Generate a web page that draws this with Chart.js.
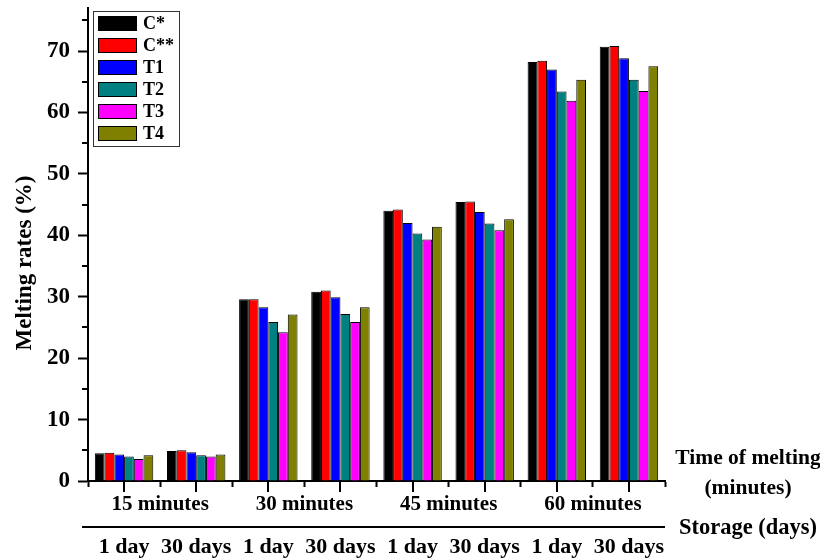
<!DOCTYPE html>
<html>
<head>
<meta charset="utf-8">
<script src="https://cdn.jsdelivr.net/npm/chart.js@4/dist/chart.umd.min.js"></script>
<style>
  html, body { margin: 0; padding: 0; background: #fff; }
  #wrap { width: 820px; height: 560px; }
</style>
</head>
<body>
<div id="wrap"><canvas id="barChart" width="820" height="560"></canvas></div>
<script>
// data
const storage = ["1 day", "30 days", "1 day", "30 days", "1 day", "30 days", "1 day", "30 days"];
const meltTimes = ["15 minutes", "30 minutes", "45 minutes", "60 minutes"];
const seriesNames = ["C*", "C**", "T1", "T2", "T3", "T4"];
const cStar  = [4.5, 4.9, 29.6, 30.8, 44.0, 45.4, 68.2, 70.7];
const cStar2 = [4.6, 5.0, 29.6, 31.0, 44.2, 45.5, 68.4, 70.8];
const t1     = [4.3, 4.7, 28.3, 29.9, 42.0, 43.8, 67.0, 68.8];
const t2     = [4.0, 4.2, 25.9, 27.2, 40.3, 41.9, 63.4, 65.3];
const t3     = [3.6, 4.0, 24.2, 25.9, 39.3, 40.8, 61.9, 63.5];
const t4     = [4.2, 4.3, 27.1, 28.3, 41.4, 42.6, 65.3, 67.5];
const yTicks = [0, 10, 20, 30, 40, 50, 60, 70];

const colors = ["#000000", "#ff0000", "#0000ff", "#008080", "#ff00ff", "#808000"];
const serif = "'Liberation Serif', 'Times New Roman', serif";

const seriesData = [cStar, cStar2, t1, t2, t3, t4];

// extra drawing: minor ticks, two-row x labels, legend box, titles
const extras = {
  id: "extras",
  afterDraw(chart) {
    const c = chart.ctx;
    const x = chart.scales.x;
    const y = chart.scales.y;
    const base = y.getPixelForValue(0);
    c.save();
    c.strokeStyle = "#000";
    c.fillStyle = "#000";
    c.lineWidth = 2;

    // minor y ticks
    for (let v = 5; v < 77; v += 10) {
      const py = Math.round(y.getPixelForValue(v));
      c.beginPath();
      c.moveTo(x.left, py);
      c.lineTo(x.left - 6, py);
      c.stroke();
    }

    // longer ticks at group centres
    for (let i = 0; i < storage.length; i++) {
      const px = Math.round(x.getPixelForValue(i));
      c.beginPath();
      c.moveTo(px, base);
      c.lineTo(px, base + 11);
      c.stroke();
    }

    c.textAlign = "center";
    c.textBaseline = "middle";
    c.font = "bold 21px " + serif;

    // melting time labels between each pair
    for (let k = 0; k < meltTimes.length; k++) {
      const px = (x.getPixelForValue(2 * k) + x.getPixelForValue(2 * k + 1)) / 2;
      c.fillText(meltTimes[k], px, base + 24);
    }

    // separator line
    c.beginPath();
    c.moveTo(82, base + 46);
    c.lineTo(x.right, base + 46);
    c.stroke();

    // storage labels
    c.font = "bold 22px " + serif;
    for (let i = 0; i < storage.length; i++) {
      c.fillText(storage[i], x.getPixelForValue(i), base + 66);
    }

    // right hand titles
    c.font = "bold 21.5px " + serif;
    c.fillText("Time of melting", 748, base - 23);
    c.fillText("(minutes)", 748, base + 7);
    c.font = "bold 22.5px " + serif;
    c.fillText("Storage (days)", 748, base + 47);

    // y title
    c.save();
    c.translate(25, 263);
    c.rotate(-Math.PI / 2);
    c.font = "bold 23px " + serif;
    c.fillText("Melting rates (%)", 0, 0);
    c.restore();

    // legend
    c.lineWidth = 1;
    c.strokeStyle = "#333";
    c.strokeRect(93.5, 11.5, 86, 135);
    c.textAlign = "left";
    c.font = "bold 18px " + serif;
    chart.data.datasets.forEach((ds, i) => {
      const cy = 23 + i * 22;
      c.fillStyle = ds.backgroundColor;
      c.fillRect(98, cy - 7, 39, 15);
      c.strokeStyle = "#000";
      c.strokeRect(98.5, cy - 6.5, 38, 14);
      c.fillStyle = "#000";
      c.fillText(ds.label, 143, cy + 1);
    });
    c.restore();
  }
};

const ctx = document.getElementById("barChart");

const chart = new Chart(ctx, {
  type: "bar",
  data: {
    labels: storage,
    datasets: seriesNames.map((name, i) => ({
      label: name,
      data: seriesData[i],
      backgroundColor: colors[i],
      borderColor: "#000",
      borderWidth: 1,
      barPercentage: 1.0,
      categoryPercentage: 0.81,
    })),
  },
  options: {
    responsive: false,
    animation: false,
    layout: {
      padding: { top: 8, right: 155, left: 0, bottom: 0 },
    },
    plugins: {
      legend: { display: false },
      tooltip: { enabled: false },
    },
    scales: {
      x: {
        offset: true,
        grid: {
          offset: true,
          drawOnChartArea: false,
          tickLength: 6,
          tickWidth: 2,
          tickColor: "#000",
        },
        border: { color: "#000", width: 2 },
        ticks: { display: false },
        afterFit: (s) => {
          s.height = 79;
          s.paddingLeft = 0;
          s.paddingRight = 0;
        },
      },
      y: {
        min: 0,
        max: 77,
        grid: {
          drawOnChartArea: false,
          tickLength: 10,
          tickWidth: 2,
          tickColor: "#000",
        },
        border: { color: "#000", width: 2 },
        ticks: {
          stepSize: 10,
          padding: 8,
          color: "#000",
          font: { family: serif, size: 23, weight: "bold" },
        },
        afterBuildTicks: (s) => {
          s.ticks = yTicks.map((v) => ({ value: v }));
        },
        afterFit: (s) => {
          s.width = 88;
          s.paddingTop = 0;
          s.paddingBottom = 0;
        },
      },
    },
  },
  plugins: [extras],
});
</script>
</body>
</html>
